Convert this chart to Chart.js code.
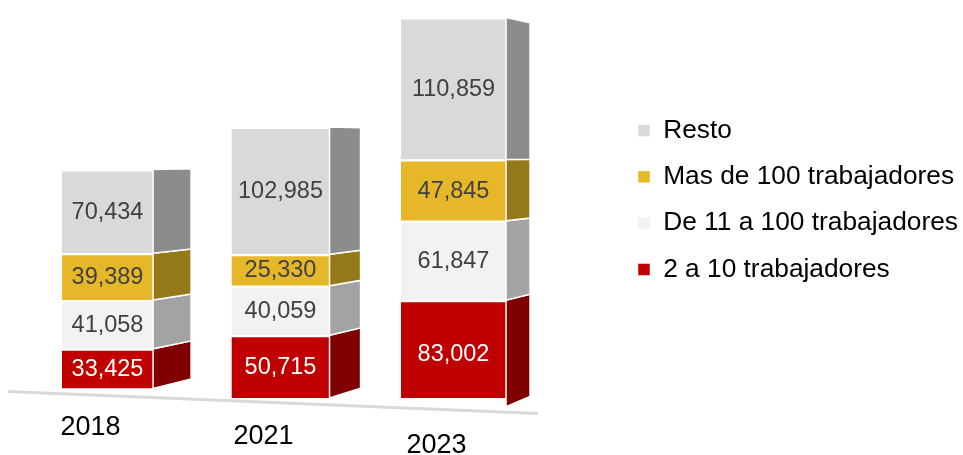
<!DOCTYPE html>
<html lang="es">
<head>
<meta charset="UTF-8">
<title>Empresas por tamaño</title>
<script src="https://cdn.jsdelivr.net/npm/chart.js"></script>
<style>
  html, body { margin: 0; padding: 0; background: #fff; }
</style>
</head>
<body>
<canvas id="empresas" width="963" height="455"></canvas>
<script>
const years = ['2018', '2021', '2023'];
const de2a10 = [33425, 50715, 83002];
const de11a100 = [41058, 40059, 61847];
const masDe100 = [39389, 25330, 47845];
const resto = [70434, 102985, 110859];

// poor man's perspective: later years sit a bit closer to the viewer
const depthW = [0.929, 1, 1.071];
const depthH = [0.96, 1, 1.036];
const horizonY = 160;
const sideVP = { x: 1111, y: 150, t: 0.0397 };

const sideColors = ['#7f0000', '#a3a3a3', '#957818', '#8c8c8c'];
const valueColors = ['#ffffff', '#404040', '#404040', '#404040'];
const fontFamily = '"Liberation Sans", Arial, sans-serif';

const perspective = {
  id: 'perspective',
  afterDatasetsUpdate(chart) {
    chart.data.datasets.forEach((ds, d) => {
      chart.getDatasetMeta(d).data.forEach((bar, i) => {
        bar.width = bar.width * depthW[i];
        bar.y = horizonY + depthH[i] * (bar.y - horizonY);
        bar.base = horizonY + depthH[i] * (bar.base - horizonY);
      });
    });
  },
  beforeDatasetsDraw(chart) {
    const ctx = chart.ctx;
    const bars = chart.getDatasetMeta(0).data;
    const first = bars[0], last = bars[bars.length - 1];
    const lastRight = last.x + last.width / 2;
    const xEnd = lastRight + sideVP.t * (sideVP.x - lastRight);
    ctx.save();
    ctx.strokeStyle = '#d9d9d9';
    ctx.lineWidth = 3;
    ctx.beginPath();
    ctx.moveTo(first.x - first.width / 2 - 54, first.base + 3);
    ctx.lineTo(xEnd + 8, last.base + 7);
    ctx.stroke();
    ctx.restore();
  },
  afterDatasetsDraw(chart) {
    const ctx = chart.ctx;
    const t = sideVP.t;
    ctx.save();
    // side faces
    chart.data.datasets.forEach((ds, d) => {
      chart.getDatasetMeta(d).data.forEach((bar) => {
        const x1 = bar.x + bar.width / 2;
        const x2 = x1 + t * (sideVP.x - x1);
        ctx.beginPath();
        ctx.moveTo(x1, bar.y);
        ctx.lineTo(x2, bar.y + t * (sideVP.y - bar.y));
        ctx.lineTo(x2, bar.base + t * (sideVP.y - bar.base));
        ctx.lineTo(x1, bar.base);
        ctx.closePath();
        ctx.fillStyle = sideColors[d];
        ctx.fill();
        ctx.strokeStyle = '#ffffff';
        ctx.lineWidth = 1.5;
        ctx.stroke();
      });
    });
    // values
    ctx.font = '23.5px ' + fontFamily;
    ctx.textAlign = 'center';
    ctx.textBaseline = 'middle';
    chart.data.datasets.forEach((ds, d) => {
      chart.getDatasetMeta(d).data.forEach((bar, i) => {
        ctx.fillStyle = valueColors[d];
        ctx.fillText(ds.data[i].toLocaleString('en-US'), bar.x, (bar.y + bar.base) / 2 + 1);
      });
    });
    // year labels under the floor
    const xScale = chart.scales.x;
    ctx.font = '27px ' + fontFamily;
    ctx.fillStyle = '#000000';
    chart.getDatasetMeta(0).data.forEach((bar, i) => {
      ctx.fillText(xScale.getLabelForValue(i), bar.x - 17, bar.base + 39);
    });
    ctx.restore();
  }
};

new Chart(document.getElementById('empresas'), {
  type: 'bar',
  data: {
    labels: years,
    datasets: [
      { label: '2 a 10 trabajadores', data: de2a10, backgroundColor: '#c00000' },
      { label: 'De 11 a 100 trabajadores', data: de11a100, backgroundColor: '#f2f2f2' },
      { label: 'Mas de 100 trabajadores', data: masDe100, backgroundColor: '#e6b729' },
      { label: 'Resto', data: resto, backgroundColor: '#d9d9d9' }
    ]
  },
  options: {
    responsive: false,
    animation: false,
    events: [],
    layout: { padding: { left: 21, right: 0, top: 2, bottom: 57 } },
    datasets: {
      bar: {
        categoryPercentage: 0.567,
        barPercentage: 1,
        borderColor: '#ffffff',
        borderWidth: { top: 2, right: 0, bottom: 0, left: 0 }
      }
    },
    scales: {
      x: { stacked: true, display: false },
      y: {
        stacked: true,
        min: 0,
        max: 320000,
        position: 'right',
        grid: { display: false },
        border: { display: false },
        ticks: { display: false },
        afterFit(scale) { scale.width = 78; }
      }
    },
    plugins: {
      tooltip: { enabled: false },
      legend: {
        position: 'right',
        align: 'center',
        reverse: true,
        maxWidth: 345,
        labels: {
          boxWidth: 12,
          boxHeight: 12,
          padding: 20,
          color: '#000000',
          font: { size: 26.3, family: fontFamily }
        }
      }
    }
  },
  plugins: [perspective]
});
</script>
</body>
</html>
